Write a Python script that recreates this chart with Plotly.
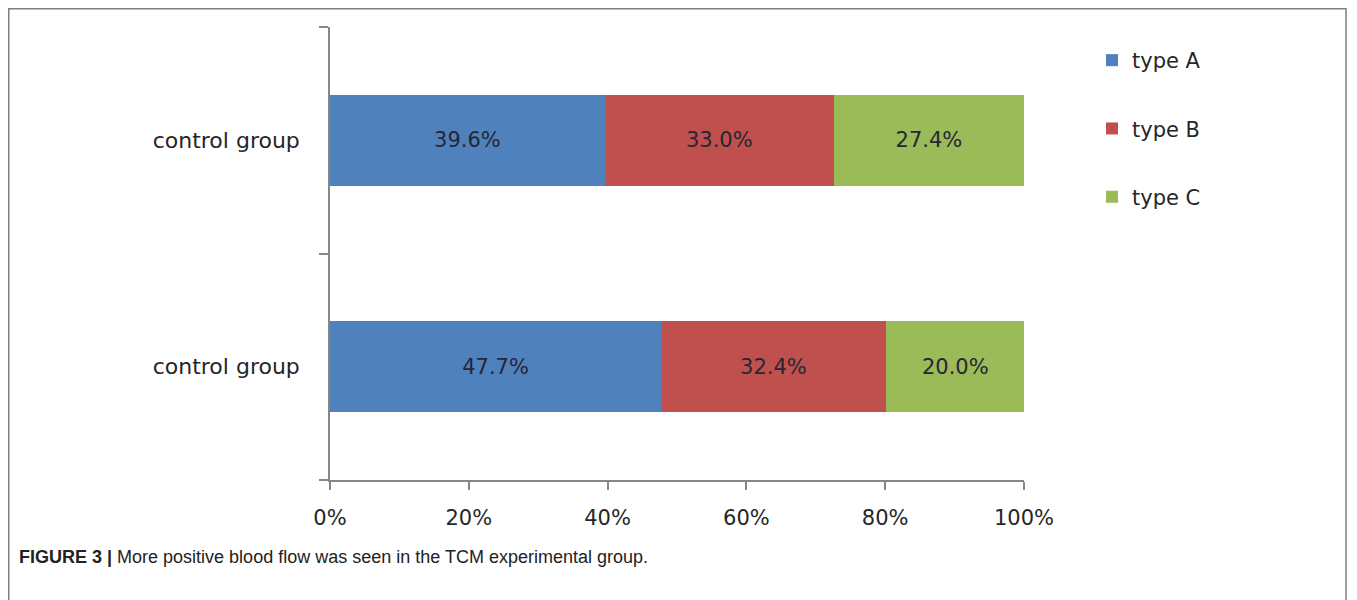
import plotly.graph_objects as go

group_ids = ["g_bottom", "g_top"]
group_labels = ["control group", "control group"]
series_names = ["type A", "type B", "type C"]
type_a = [47.7, 39.6]
type_b = [32.4, 33.0]
type_c = [20.0, 27.4]
colors = ["#4F81BD", "#C0504D", "#9BBB59"]
x_ticks = [0, 20, 40, 60, 80, 100]
x_tick_labels = ["0%", "20%", "40%", "60%", "80%", "100%"]

FONT = "DejaVu Sans"
OFF = 8  # page body margin
fig = go.Figure()
for i, (name, vals) in enumerate(zip(series_names, [type_a, type_b, type_c])):
    fig.add_trace(go.Bar(
        y=group_ids, x=vals, name=name, orientation="h",
        marker=dict(color=colors[i], line=dict(width=0)),
        text=[f"{v:.1f}%" for v in vals], textposition="inside",
        insidetextanchor="middle",
        textfont=dict(family=FONT, size=21, color="#262636"),
        legendgroup=name, hoverinfo="x+name",
    ))

W, H = 1357 - OFF, 600 - OFF
L, R, T, B = 330 - OFF, 1024 - OFF, 27 - OFF, 480 - OFF
pw, ph = R - L, B - T

def px(x):
    return (x - OFF - L) / pw

def py(y):
    return (B - (y - OFF)) / ph

fig.update_layout(
    width=W, height=H,
    margin=dict(l=L, r=W - R, t=T, b=H - B),
    barmode="stack", bargap=0.6,
    plot_bgcolor="white", paper_bgcolor="white",
    font=dict(family=FONT, color="#262626"),
    showlegend=True,
    legend=dict(
        x=px(1092), y=py(40), xanchor="left", yanchor="top",
        traceorder="grouped", tracegroupgap=38,
        font=dict(family=FONT, size=21, color="#262626"),
        itemwidth=30, bgcolor="rgba(0,0,0,0)",
    ),
    xaxis=dict(
        range=[0, 100], tickvals=x_ticks, ticktext=x_tick_labels,
        showgrid=False, zeroline=False, showline=True,
        linecolor="#868686", linewidth=1.5,
        ticks="outside", ticklen=8, tickcolor="#868686", tickwidth=1.5,
        tickfont=dict(family=FONT, size=21, color="#262626"),
        ticklabelstandoff=10,
    ),
    yaxis=dict(
        type="category", categoryorder="array", categoryarray=group_ids,
        tickvals=group_ids, ticktext=group_labels,
        tickson="boundaries", range=[-0.5, 1.5],
        showgrid=False, zeroline=False, showline=True,
        linecolor="#868686", linewidth=1.5,
        ticks="outside", ticklen=9, tickcolor="#868686", tickwidth=1.5,
        tickfont=dict(family=FONT, size=22, color="#262626"),
        ticklabelstandoff=24,
    ),
)

fig.add_shape(type="rect", xref="paper", yref="paper",
              x0=px(OFF + 0.75), x1=px(1346), y0=py(615), y1=py(OFF + 0.75),
              line=dict(color="#7f7f7f", width=1.5), fillcolor="rgba(0,0,0,0)",
              layer="above")

fig.add_annotation(
    xref="paper", yref="paper", x=px(17), y=py(557),
    xanchor="left", yanchor="middle", showarrow=False,
    text="<b>FIGURE 3 |</b> More positive blood flow was seen in the TCM experimental group.",
    font=dict(family="Liberation Sans Narrow, Liberation Sans, Arial", size=18, color="#222222"),
)

fig.write_html("out.html")
